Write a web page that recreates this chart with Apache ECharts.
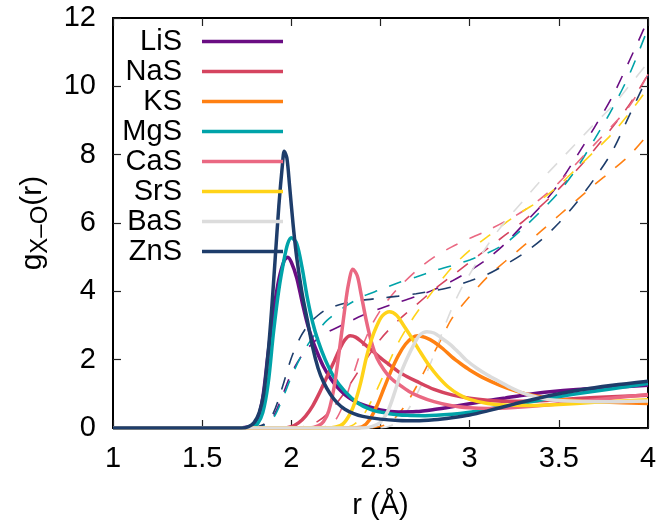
<!DOCTYPE html>
<html>
<head>
<meta charset="utf-8">
<script src="https://cdn.jsdelivr.net/npm/echarts@6/dist/echarts.min.js"></script>
<style>
  html, body { margin: 0; padding: 0; background: #ffffff; }
  #chart { width: 660px; height: 525px; }
</style>
</head>
<body>
<div id="chart"></div>
<script>
// Compounds and their line colours
const compounds = ['LiS', 'NaS', 'KS', 'MgS', 'CaS', 'SrS', 'BaS', 'ZnS'];
const palette = ['#6a0d83', '#d5445f', '#ff8012', '#00a3a9', '#ea6882', '#ffd319', '#dcdcdc', '#1e3d6b'];

// Axis ticks
const xTicks = [1, 1.5, 2, 2.5, 3, 3.5, 4];
const yTicks = [0, 2, 4, 6, 8, 10, 12];

// Radial distribution functions g(r): [r in Å, g]
const gLiS = [[1.0,0],[1.7,0],[1.75,0.02],[1.78,0.07],[1.81,0.25],[1.84,0.9],[1.87,2.2],[1.9,3.4],[1.93,4.35],[1.96,4.9],[1.98,5.0],[2.0,4.85],[2.03,4.4],[2.06,3.7],[2.09,3.05],[2.12,2.55],[2.15,2.15],[2.18,1.8],[2.22,1.45],[2.26,1.18],[2.3,0.98],[2.35,0.8],[2.4,0.68],[2.5,0.53],[2.6,0.47],[2.7,0.48],[2.8,0.54],[2.9,0.62],[3.0,0.71],[3.1,0.8],[3.2,0.88],[3.3,0.96],[3.45,1.06],[3.6,1.13],[3.8,1.19],[4.0,1.25]];
const gNaS = [[1.0,0],[1.95,0],[2.0,0.04],[2.04,0.15],[2.08,0.35],[2.12,0.65],[2.16,1.05],[2.2,1.5],[2.24,1.95],[2.27,2.3],[2.3,2.58],[2.33,2.7],[2.36,2.66],[2.4,2.5],[2.45,2.28],[2.5,2.05],[2.55,1.85],[2.6,1.65],[2.65,1.5],[2.7,1.37],[2.8,1.13],[2.9,0.97],[3.0,0.87],[3.1,0.81],[3.2,0.78],[3.35,0.79],[3.5,0.83],[3.7,0.89],[4.0,0.96]];
const gKS  = [[1.0,0],[2.35,0],[2.4,0.04],[2.44,0.25],[2.48,0.65],[2.52,1.17],[2.56,1.68],[2.6,2.12],[2.64,2.45],[2.68,2.65],[2.71,2.7],[2.75,2.65],[2.8,2.52],[2.85,2.32],[2.9,2.08],[2.95,1.88],[3.0,1.7],[3.08,1.46],[3.17,1.25],[3.26,1.08],[3.35,0.96],[3.45,0.87],[3.6,0.8],[3.75,0.76],[4.0,0.72]];
const gMgS = [[1.0,0],[1.72,0],[1.78,0.04],[1.81,0.12],[1.84,0.45],[1.87,1.3],[1.9,2.8],[1.93,4.05],[1.96,4.95],[1.98,5.4],[2.0,5.57],[2.03,5.4],[2.06,4.7],[2.09,3.8],[2.12,3.08],[2.15,2.55],[2.19,2.0],[2.24,1.48],[2.3,1.07],[2.37,0.74],[2.45,0.53],[2.55,0.42],[2.65,0.37],[2.75,0.36],[2.9,0.4],[3.0,0.46],[3.1,0.55],[3.2,0.64],[3.3,0.73],[3.45,0.87],[3.6,1.0],[3.8,1.15],[4.0,1.3]];
const gCaS = [[1.0,0],[2.1,0],[2.15,0.06],[2.18,0.18],[2.21,0.5],[2.24,1.2],[2.27,2.3],[2.3,3.5],[2.32,4.2],[2.345,4.65],[2.37,4.45],[2.39,3.95],[2.42,3.15],[2.45,2.5],[2.48,2.05],[2.52,1.7],[2.56,1.45],[2.61,1.25],[2.66,1.07],[2.72,0.92],[2.8,0.77],[2.9,0.65],[3.0,0.59],[3.1,0.57],[3.25,0.6],[3.45,0.68],[3.7,0.82],[4.0,0.98]];
const gSrS = [[1.0,0],[2.2,0],[2.25,0.03],[2.29,0.12],[2.33,0.42],[2.36,0.8],[2.39,1.35],[2.42,2.05],[2.45,2.6],[2.48,3.0],[2.51,3.28],[2.55,3.4],[2.59,3.3],[2.63,3.0],[2.67,2.68],[2.72,2.25],[2.77,1.85],[2.82,1.52],[2.88,1.2],[2.94,0.98],[3.0,0.84],[3.1,0.72],[3.2,0.67],[3.35,0.66],[3.5,0.69],[3.7,0.75],[4.0,0.83]];
const gBaS = [[1.0,0],[2.4,0],[2.45,0.04],[2.5,0.17],[2.54,0.48],[2.58,1.05],[2.61,1.55],[2.65,2.05],[2.69,2.47],[2.72,2.72],[2.76,2.82],[2.8,2.78],[2.84,2.64],[2.89,2.45],[2.94,2.2],[2.98,1.99],[3.04,1.75],[3.1,1.55],[3.17,1.35],[3.23,1.18],[3.3,1.02],[3.38,0.9],[3.45,0.83],[3.6,0.78],[3.8,0.77],[4.0,0.79]];
const gZnS = [[1.0,0],[1.72,0],[1.76,0.04],[1.79,0.15],[1.82,0.45],[1.845,1.0],[1.87,2.2],[1.89,3.5],[1.91,5.0],[1.93,6.5],[1.95,7.7],[1.96,8.1],[1.975,7.9],[1.99,7.1],[2.01,5.95],[2.03,5.0],[2.06,3.95],[2.09,3.15],[2.12,2.35],[2.15,1.75],[2.18,1.35],[2.22,0.98],[2.26,0.72],[2.3,0.55],[2.35,0.42],[2.4,0.34],[2.5,0.26],[2.6,0.22],[2.7,0.21],[2.8,0.24],[2.9,0.3],[3.0,0.38],[3.1,0.5],[3.25,0.7],[3.45,0.95],[3.6,1.1],[3.8,1.25],[4.0,1.37]];

// Running coordination numbers n(r): [r in Å, n]
const nLiS = [[1.78,0],[1.85,0.1],[1.9,0.35],[1.95,0.95],[2.0,1.6],[2.05,2.05],[2.1,2.38],[2.15,2.62],[2.2,2.8],[2.3,3.05],[2.4,3.3],[2.5,3.5],[2.6,3.68],[2.7,3.85],[2.8,4.05],[2.9,4.3],[3.0,4.6],[3.1,4.95],[3.2,5.4],[3.3,5.95],[3.4,6.5],[3.5,7.15],[3.6,7.95],[3.7,8.8],[3.8,9.7],[3.9,10.8],[4.0,11.95]];
const nNaS = [[2.0,0],[2.05,0.02],[2.1,0.08],[2.15,0.2],[2.2,0.4],[2.25,0.7],[2.3,1.05],[2.35,1.45],[2.4,1.85],[2.5,2.6],[2.6,3.15],[2.7,3.6],[2.8,4.05],[2.9,4.45],[3.0,4.85],[3.1,5.25],[3.2,5.65],[3.3,6.05],[3.4,6.5],[3.5,7.0],[3.6,7.55],[3.7,8.15],[3.8,8.8],[3.9,9.5],[4.0,10.35]];
const nKS  = [[2.45,0],[2.5,0.05],[2.55,0.15],[2.6,0.4],[2.65,0.75],[2.7,1.2],[2.75,1.7],[2.8,2.2],[2.85,2.7],[2.9,3.2],[3.0,3.85],[3.1,4.42],[3.2,4.88],[3.3,5.32],[3.4,5.76],[3.5,6.22],[3.6,6.67],[3.7,7.12],[3.8,7.55],[3.9,8.0],[4.0,8.6]];
const nMgS = [[1.78,0],[1.85,0.07],[1.9,0.3],[1.95,0.85],[2.0,1.5],[2.05,2.05],[2.1,2.5],[2.15,2.85],[2.2,3.15],[2.3,3.55],[2.4,3.85],[2.5,4.05],[2.6,4.25],[2.7,4.42],[2.8,4.6],[2.9,4.75],[3.0,4.92],[3.1,5.12],[3.2,5.4],[3.3,5.85],[3.4,6.35],[3.5,6.9],[3.6,7.6],[3.7,8.45],[3.8,9.35],[3.9,10.4],[4.0,11.7]];
const nCaS = [[2.12,0],[2.2,0.05],[2.25,0.25],[2.3,0.8],[2.35,1.6],[2.4,2.4],[2.45,3.0],[2.5,3.45],[2.55,3.8],[2.6,4.1],[2.7,4.6],[2.8,5.0],[2.9,5.3],[3.0,5.55],[3.1,5.78],[3.2,6.05],[3.3,6.35],[3.4,6.72],[3.5,7.18],[3.6,7.75],[3.7,8.3],[3.8,8.85],[3.9,9.45],[4.0,10.35]];
const nSrS = [[2.3,0],[2.35,0.1],[2.4,0.35],[2.45,0.8],[2.5,1.35],[2.55,1.95],[2.6,2.5],[2.65,2.95],[2.7,3.35],[2.8,4.05],[2.9,4.7],[3.0,5.2],[3.1,5.6],[3.2,6.0],[3.3,6.35],[3.4,6.68],[3.5,7.1],[3.6,7.6],[3.7,8.1],[3.8,8.62],[3.9,9.25],[4.0,9.95]];
const nBaS = [[2.5,0],[2.55,0.05],[2.6,0.2],[2.65,0.5],[2.7,0.95],[2.75,1.5],[2.8,2.15],[2.85,2.85],[2.9,3.5],[2.95,4.05],[3.0,4.5],[3.1,5.35],[3.2,6.05],[3.3,6.65],[3.4,7.25],[3.5,7.8],[3.6,8.35],[3.7,8.9],[3.8,9.42],[3.9,10.05],[4.0,10.7]];
const nZnS = [[1.78,0],[1.85,0.12],[1.9,0.45],[1.95,1.2],[2.0,2.05],[2.05,2.65],[2.1,3.05],[2.15,3.3],[2.2,3.48],[2.3,3.65],[2.4,3.74],[2.5,3.8],[2.6,3.86],[2.7,3.93],[2.8,4.02],[2.9,4.13],[3.0,4.3],[3.1,4.5],[3.2,4.78],[3.3,5.1],[3.4,5.5],[3.5,6.0],[3.6,6.6],[3.7,7.3],[3.8,8.1],[3.9,9.2],[4.0,10.3]];

const gData = [gLiS, gNaS, gKS, gMgS, gCaS, gSrS, gBaS, gZnS];
const nData = [nLiS, nNaS, nKS, nMgS, nCaS, nSrS, nBaS, nZnS];

const FONT = 'Liberation Sans, Arial, sans-serif';

const series = [];
// dashed coordination-number curves underneath
compounds.forEach((name, i) => {
  series.push({
    name: name + ' CN',
    type: 'line',
    data: nData[i],
    showSymbol: false,
    symbol: 'none',
    smooth: 0.3,
    lineStyle: { color: palette[i], width: 1.6, type: [13, 13] },
    z: 2
  });
});
// solid g(r) curves on top
compounds.forEach((name, i) => {
  series.push({
    name: name,
    type: 'line',
    data: gData[i],
    showSymbol: false,
    symbol: 'none',
    smooth: 0.3,
    itemStyle: { color: palette[i] },
    lineStyle: { color: palette[i], width: 3.5 },
    z: 3
  });
});

const tickStyle = { show: true, inside: true, length: 8, lineStyle: { color: '#222', width: 1.2 } };
const lineStyleAxis = { show: true, onZero: false, lineStyle: { color: '#000', width: 2 } };

const option = {
  animation: false,
  backgroundColor: '#ffffff',
  grid: { left: 113, right: 12, top: 18, bottom: 95, containLabel: false },
  legend: {
    data: compounds,
    orient: 'vertical',
    align: 'right',
    right: 377,
    top: 27,
    padding: 0,
    itemGap: 1,
    itemWidth: 81,
    itemHeight: 3.5,
    icon: 'rect',
    textStyle: { fontFamily: FONT, fontSize: 29, color: '#000', lineHeight: 29, padding: [0, 15, 0, 0] }
  },
  xAxis: [
    {
      type: 'value', min: xTicks[0], max: xTicks[xTicks.length - 1], interval: 0.5,
      position: 'bottom',
      name: 'r (Å)', nameLocation: 'middle', nameGap: 63,
      nameTextStyle: { fontFamily: FONT, fontSize: 29, color: '#000' },
      axisLine: lineStyleAxis, axisTick: tickStyle,
      axisLabel: { fontFamily: FONT, fontSize: 29, color: '#000', margin: 16 },
      splitLine: { show: false }
    },
    {
      type: 'value', min: xTicks[0], max: xTicks[xTicks.length - 1], interval: 0.5,
      position: 'top',
      axisLine: lineStyleAxis, axisTick: tickStyle,
      axisLabel: { show: false }, splitLine: { show: false }
    }
  ],
  yAxis: [
    {
      type: 'value', min: yTicks[0], max: yTicks[yTicks.length - 1], interval: 2,
      position: 'left',
      name: 'g{s|X–O}(r)', nameLocation: 'middle', nameGap: 62, nameRotate: 90,
      nameTextStyle: {
        fontFamily: FONT, fontSize: 30, color: '#000', lineHeight: 36,
        rich: { s: { fontFamily: FONT, fontSize: 24, color: '#000', lineHeight: 24, padding: [15, 0, 0, 0] } }
      },
      axisLine: lineStyleAxis, axisTick: tickStyle,
      axisLabel: { fontFamily: FONT, fontSize: 29, color: '#000', margin: 17 },
      splitLine: { show: false }
    },
    {
      type: 'value', min: yTicks[0], max: yTicks[yTicks.length - 1], interval: 2,
      position: 'right',
      axisLine: lineStyleAxis, axisTick: tickStyle,
      axisLabel: { show: false }, splitLine: { show: false }
    }
  ],
  series: series
};

const chart = echarts.init(document.getElementById('chart'), null, { renderer: 'canvas' });
chart.setOption(option);
</script>
</body>
</html>
